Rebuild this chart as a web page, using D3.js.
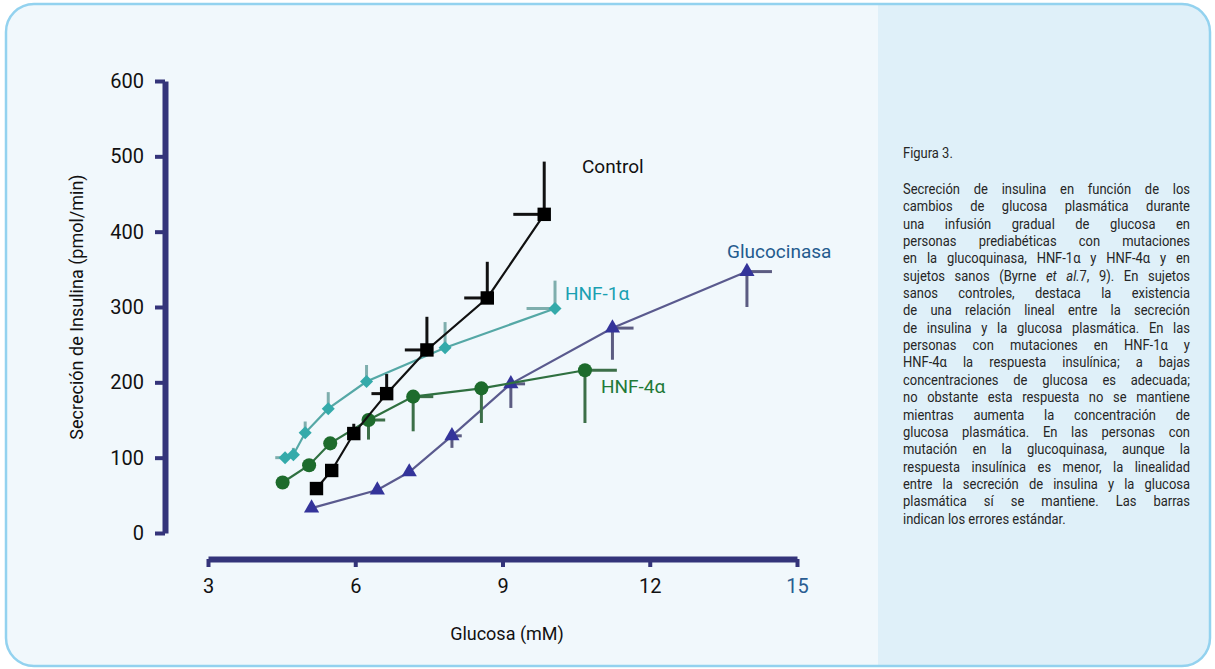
<!DOCTYPE html>
<html><head><meta charset="utf-8">
<script src="https://cdn.jsdelivr.net/npm/d3@7"></script>
<style>
body{margin:0;background:#fff;}
svg{display:block;font-family:Roboto,"Noto Sans",sans-serif;}
</style>
</head><body>
<svg id="chart" width="1215" height="669"></svg>
<script>
// ---------- data ----------
const glucoseTicks = [3, 6, 9, 12, 15];
const insulinTicks = [0, 100, 200, 300, 400, 500, 600];

const controlX    = [5.21, 5.52, 5.97, 6.64, 7.46, 8.69, 9.85];
const controlY    = [59, 83, 132, 185, 243, 312, 423];
const controlYErr = [0, 0, 13, 26, 44, 48, 70];   // upward
const controlXErr = [0, 0, 0, 0.31, 0.45, 0.47, 0.63]; // leftward

const hnf1X    = [4.57, 4.74, 4.98, 5.45, 6.23, 7.83, 10.07];
const hnf1Y    = [100, 104, 133, 165, 201, 246, 298];
const hnf1YErr = [6, 9, 15, 22, 22, 34, 37];      // upward
const hnf1XErr = [0.2, 0, 0, 0, 0, 0, 0.58];      // leftward

const hnf4X    = [4.52, 5.06, 5.49, 6.27, 7.18, 8.57, 10.68];
const hnf4Y    = [67, 90, 119, 150, 181, 192, 216];
const hnf4YErr = [0, 0, 6, 26, 46, 46, 70];       // downward
const hnf4XErr = [0, 0, 0, 0.34, 0.41, 0, 0.65];  // rightward

const gckX    = [5.11, 6.45, 7.10, 7.97, 9.17, 11.24, 13.98];
const gckY    = [33, 57, 81, 129, 198, 272, 347];
const gckYErr = [0, 0, 4, 16, 32, 42, 47];        // downward
const gckXErr = [0, 0, 0, 0.2, 0.29, 0.43, 0.51]; // rightward

const seriesLabels = ["Control", "HNF-1α", "HNF-4α", "Glucocinasa"];
const xTitle = "Glucosa (mM)";
const yTitle = "Secreción de Insulina (pmol/min)";
const captionTitle = "Figura 3.";
const captionLines = [
  "Secreción de insulina en función de los",
  "cambios de glucosa plasmática durante",
  "una infusión gradual de glucosa en",
  "personas prediabéticas con mutaciones",
  "en la glucoquinasa, HNF-1α y HNF-4α y en",
  "sujetos sanos (Byrne |et al.|7, 9). En sujetos",
  "sanos controles, destaca la existencia",
  "de una relación lineal entre la secreción",
  "de insulina y la glucosa plasmática. En las",
  "personas con mutaciones en HNF-1α y",
  "HNF-4α la respuesta insulínica; a bajas",
  "concentraciones de glucosa es adecuada;",
  "no obstante esta respuesta no se mantiene",
  "mientras aumenta la concentración de",
  "glucosa plasmática. En las personas con",
  "mutación en la glucoquinasa, aunque la",
  "respuesta insulínica es menor, la linealidad",
  "entre la secreción de insulina y la glucosa",
  "plasmática sí se mantiene. Las barras",
  "indican los errores estándar."
];

// ---------- build series ----------
function build(xs, ys, yerr, xerr) {
  return xs.map((x, i) => ({x, y: ys[i], ye: yerr[i], xe: xerr[i]}));
}
const series = [
  {name: seriesLabels[3], data: build(gckX, gckY, gckYErr, gckXErr), dir: -1,
   line: "#5a5a8e", mark: "#34349a", err: "#5c5c82", label: "#245b8e", sym: d3.symbolTriangle, size: 100, rot: 0},
  {name: seriesLabels[2], data: build(hnf4X, hnf4Y, hnf4YErr, hnf4XErr), dir: -1,
   line: "#2f7040", mark: "#1d6b2c", err: "#3c6f48", label: "#1f7a38", sym: d3.symbolCircle, size: 155, rot: 0},
  {name: seriesLabels[1], data: build(hnf1X, hnf1Y, hnf1YErr, hnf1XErr), dir: 1,
   line: "#55a8a6", mark: "#34aaaa", err: "#7eaead", label: "#1aa0b2", sym: d3.symbolSquare, size: 85, rot: 45},
  {name: seriesLabels[0], data: build(controlX, controlY, controlYErr, controlXErr), dir: 1,
   line: "#111", mark: "#000", err: "#111", label: "#111", sym: d3.symbolSquare, size: 180, rot: 0}
];

// ---------- layout ----------
const svg = d3.select("#chart");
const W = 1215, H = 669;
const x = d3.scaleLinear().domain([3, 15]).range([208, 797]);
const y = d3.scaleLinear().domain([0, 600]).range([533, 81]);

// background panels
const clipId = "frameClip";
svg.append("defs").append("clipPath").attr("id", clipId)
  .append("rect").attr("x", 6).attr("y", 4).attr("width", 1204).attr("height", 662).attr("rx", 28).attr("ry", 28);
const bg = svg.append("g").attr("clip-path", `url(#${clipId})`);
bg.append("rect").attr("x", 0).attr("y", 0).attr("width", W).attr("height", H).attr("fill", "#f1f8fc");
bg.append("rect").attr("x", 878).attr("y", 0).attr("width", W - 878).attr("height", H).attr("fill", "#dff0f9");
svg.append("rect").attr("x", 6).attr("y", 4).attr("width", 1204).attr("height", 662).attr("rx", 28).attr("ry", 28)
  .attr("fill", "none").attr("stroke", "#93d2ef").attr("stroke-width", 2.5);

const axisColor = "#34347a";

// y axis
const yAxisX = 165;
const gy = svg.append("g").attr("transform", `translate(${yAxisX},0)`)
  .call(d3.axisLeft(y).tickValues(insulinTicks).tickSize(10).tickSizeOuter(0).tickPadding(11));
gy.select(".domain").attr("stroke", axisColor).attr("stroke-width", 6);
gy.selectAll(".tick line").attr("stroke", axisColor).attr("stroke-width", 4);
gy.selectAll(".tick text").attr("fill", "#111").attr("font-size", 20).attr("font-family", "Roboto");

// x axis
const xAxisY = 559;
const gx = svg.append("g").attr("transform", `translate(0,${xAxisY})`)
  .call(d3.axisBottom(x).tickValues(glucoseTicks).tickSize(8).tickSizeOuter(0).tickPadding(12));
gx.select(".domain").attr("stroke", axisColor).attr("stroke-width", 6);
gx.selectAll(".tick line").attr("stroke", axisColor).attr("stroke-width", 4);
gx.selectAll(".tick text").attr("fill", d => d === 15 ? "#2a5d92" : "#111")
  .attr("font-size", 20).attr("font-family", "Roboto");

// axis titles
svg.append("text").attr("x", 507).attr("y", 640).attr("text-anchor", "middle")
  .attr("font-size", 18).attr("fill", "#111").text(xTitle);
svg.append("text").attr("transform", "translate(83,307) rotate(-90)").attr("text-anchor", "middle")
  .attr("font-size", 18).attr("fill", "#111").text(yTitle);

// series
const plot = svg.append("g");
const lineGen = d3.line().x(d => x(d.x)).y(d => y(d.y));
series.forEach(s => {
  const g = plot.append("g");
  s.data.forEach(d => {
    if (d.ye > 0) {
      g.append("line").attr("x1", x(d.x)).attr("x2", x(d.x))
        .attr("y1", y(d.y)).attr("y2", y(d.y + s.dir * d.ye))
        .attr("stroke", s.err).attr("stroke-width", 3);
    }
    if (d.xe > 0) {
      g.append("line").attr("x1", x(d.x)).attr("x2", x(d.x - s.dir * d.xe))
        .attr("y1", y(d.y)).attr("y2", y(d.y))
        .attr("stroke", s.err).attr("stroke-width", 3);
    }
  });
  g.append("path").attr("d", lineGen(s.data)).attr("fill", "none")
    .attr("stroke", s.line).attr("stroke-width", 2.2);
  g.selectAll("path.m").data(s.data).join("path").attr("class", "m")
    .attr("transform", d => `translate(${x(d.x)},${y(d.y)}) rotate(${s.rot})`)
    .attr("d", d3.symbol().type(s.sym).size(s.size)())
    .attr("fill", s.mark);
});

// series labels
const labelPos = {"Control": [582, 173], "HNF-1α": [565, 300], "HNF-4α": [601, 393], "Glucocinasa": [727, 258]};
series.forEach(s => {
  const p = labelPos[s.name];
  svg.append("text").attr("x", p[0]).attr("y", p[1]).attr("font-size", 19)
    .attr("fill", s.label).text(s.name);
});

// caption (slightly condensed to mimic the original typeface)
const capX = 903, capW = 287, capScale = 0.9, capFont = 14.4;
const cap = svg.append("g").attr("transform", `translate(${capX},0) scale(${capScale},1)`);
cap.append("text").attr("x", 0).attr("y", 158).attr("font-size", capFont)
  .attr("fill", "#262626").text(captionTitle);
captionLines.forEach((ln, i) => {
  const t = cap.append("text").attr("x", 0).attr("y", 194 + i * 17.35)
    .attr("font-size", capFont).attr("fill", "#262626");
  ln.split("|").forEach((part, k) => {
    t.append("tspan").attr("font-style", k % 2 ? "italic" : null).text(part);
  });
  if (i < captionLines.length - 1) {
    const nat = t.node().getComputedTextLength();
    const spaces = (ln.match(/ /g) || []).length;
    if (spaces > 0) t.attr("word-spacing", (capW / capScale - nat) / spaces);
  }
});
</script>
</body></html>
